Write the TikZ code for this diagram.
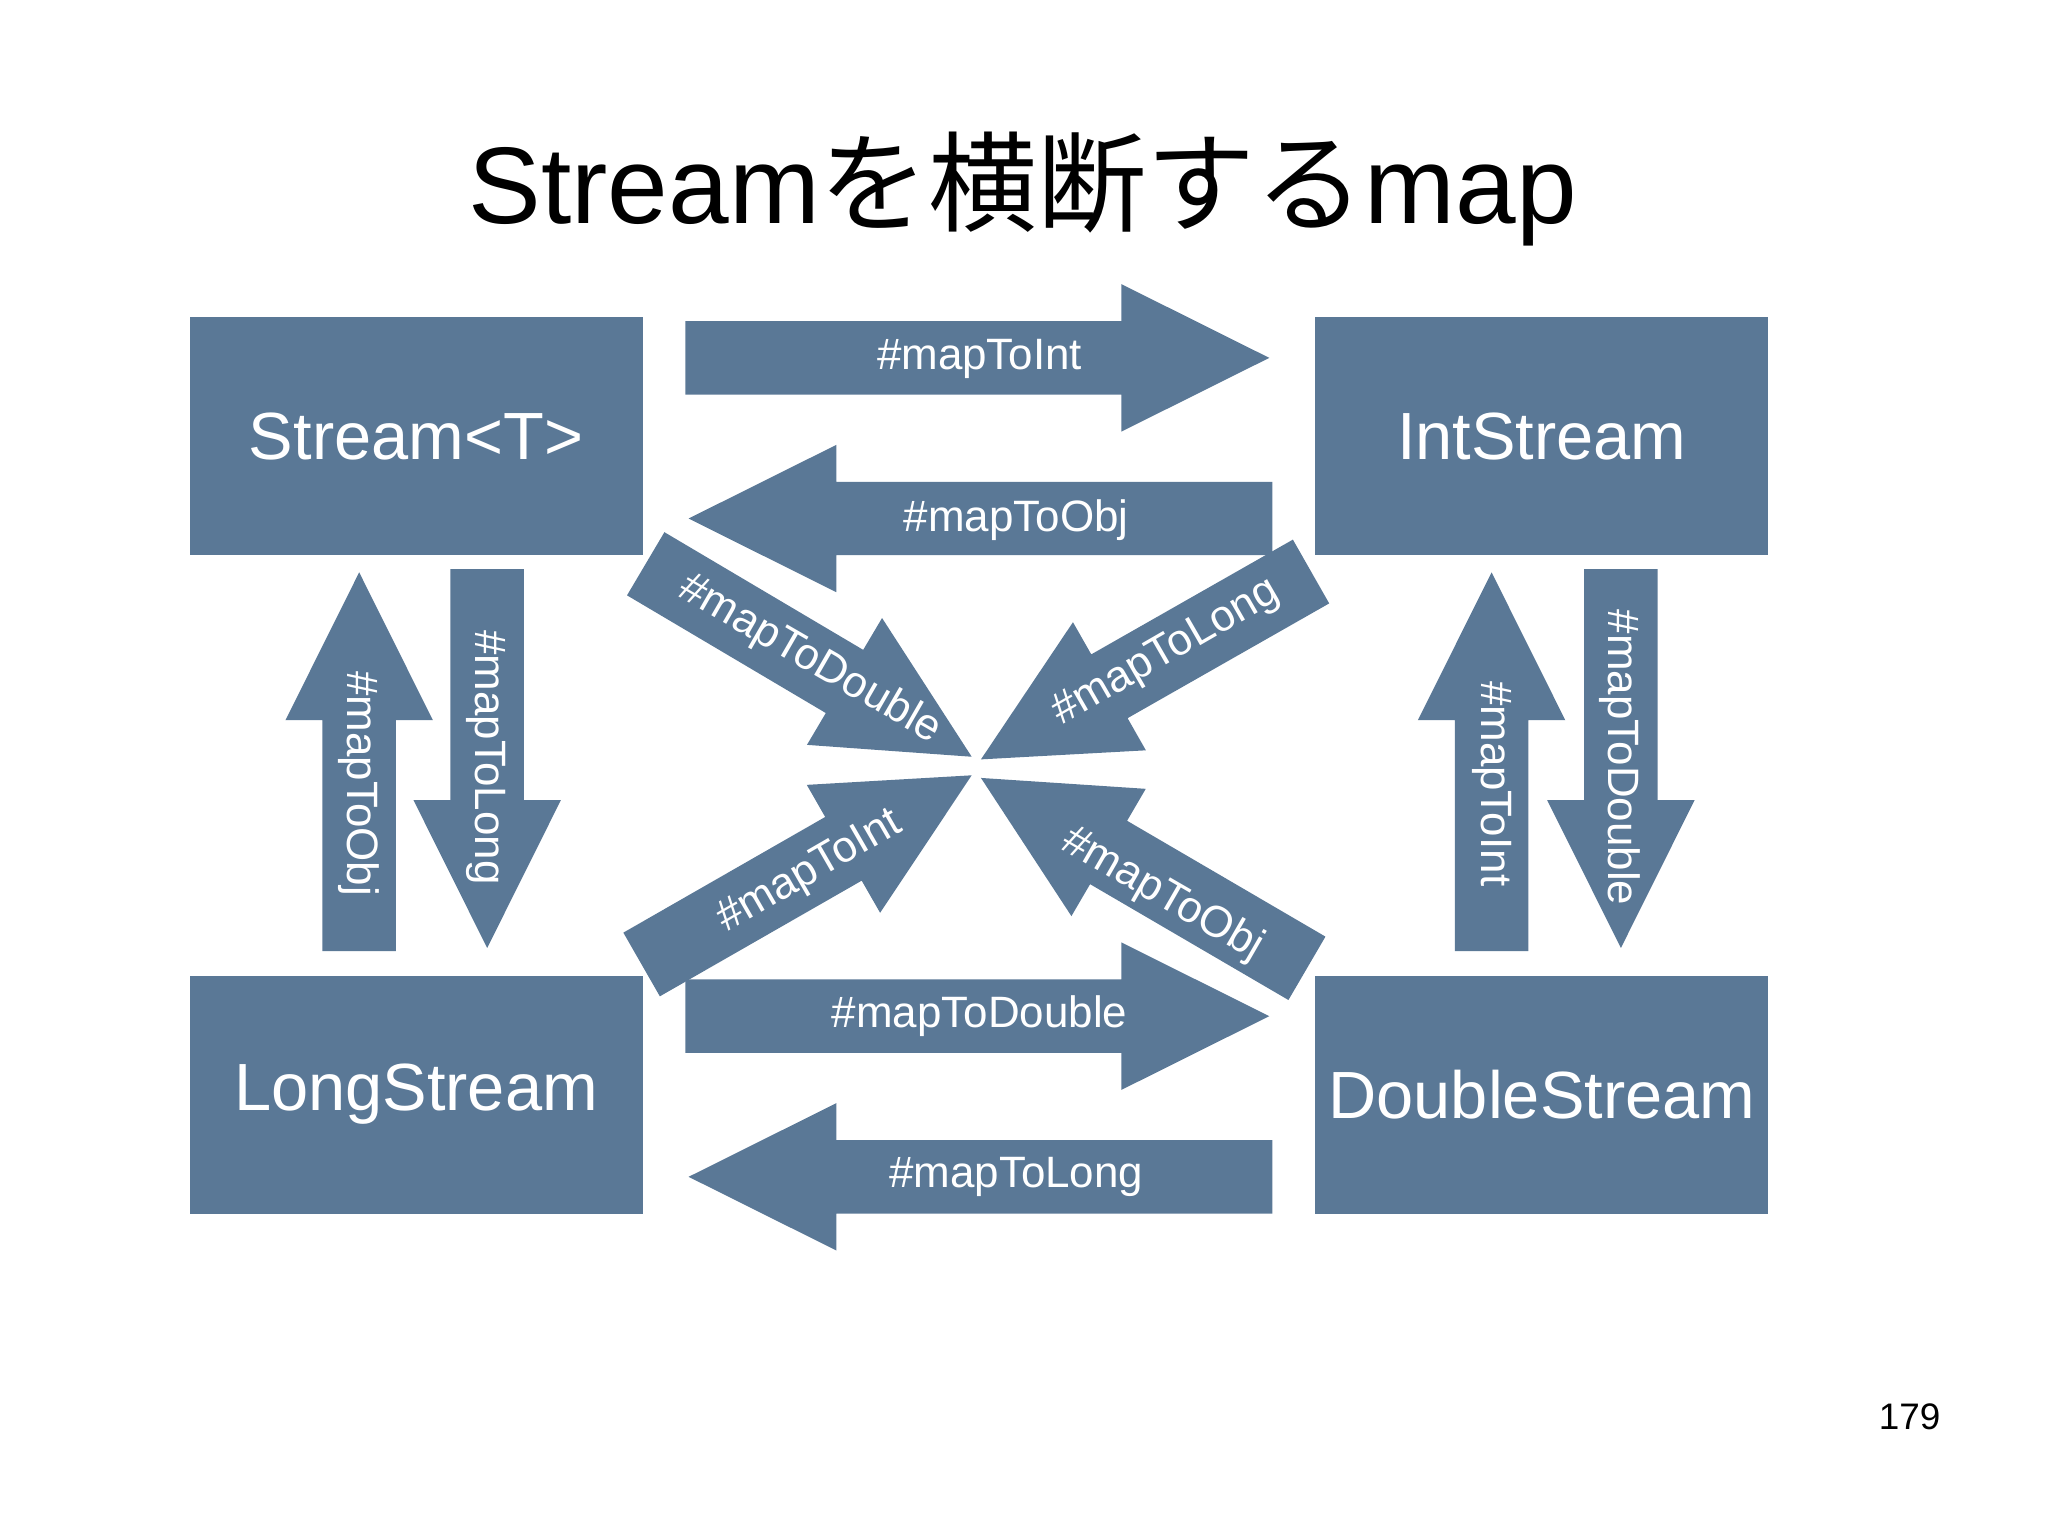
\documentclass[tikz,border=0pt]{standalone}
\usepackage{fontspec}
\setmainfont{Liberation Sans}
\newfontfamily\cjk{Noto Sans CJK JP}
\usetikzlibrary{shapes.arrows, calc, positioning}
\definecolor{streamblue}{HTML}{5A7896}

\tikzset{
    stream box/.style={fill=streamblue, text=white, minimum width=4.53cm,
        minimum height=2.38cm, inner sep=0pt, font=\fontsize{19}{22}\selectfont},
    map arrow/.style={single arrow, fill=streamblue, inner xsep=0pt,
        inner ysep=0.36cm, single arrow head extend=0.37cm,
        single arrow tip angle=53, single arrow head indent=0pt},
    map label/.style={text=white, font=\fontsize{12.5}{15}\selectfont}
}

% block arrow from tail (#2) to tip (#3)
\newcommand{\maparrow}[3]{%
    \path let \p1=($(#3)-(#2)$), \n1={atan2(\y1,\x1)}, \n2={veclen(\x1,\y1)} in
        node[map arrow, rotate=\n1, minimum height=\n2, anchor=tip] (#1) at (#3) {};}

\begin{document}
\begin{tikzpicture}[x=0.01306cm, y=-0.01306cm]
    \useasboundingbox (0, 0) rectangle (1568, 1175);
    \node[font=\fontsize{31}{36}\selectfont] (title) at (783, 145)
        {Stream{\cjk を横断する}map};
    \node[font=\fontsize{10.5}{12}\selectfont] (page) at (1462, 1085) {179};

    % stream boxes
    \node[stream box] (stream) at (318.5, 334) {Stream<T>};
    \node[stream box] (int) at (1180.5, 334) {IntStream};
    \node[stream box] (long) at (318.5, 838) {LongStream};
    \node[stream box] (double) at (1180.5, 838) {DoubleStream};

    % tails and tips
    \coordinate (a1) at (526, 274);  \coordinate (b1) at (973, 274);
    \coordinate (a2) at (973, 397);  \coordinate (b2) at (526, 397);
    \coordinate (a3) at (526, 778);  \coordinate (b3) at (973, 778);
    \coordinate (a4) at (973, 901);  \coordinate (b4) at (526, 901);
    \coordinate (a5) at (275, 727);  \coordinate (b5) at (275, 437);
    \coordinate (a6) at (373, 437);  \coordinate (b6) at (373, 727);
    \coordinate (a7) at (1142, 727); \coordinate (b7) at (1142, 437);
    \coordinate (a8) at (1241, 437); \coordinate (b8) at (1241, 727);
    \coordinate (a9) at (495, 432);  \coordinate (b9) at (745, 580);
    \coordinate (a10) at (1003, 438); \coordinate (b10) at (750, 582);
    \coordinate (a11) at (492, 738); \coordinate (b11) at (745, 593);
    \coordinate (a12) at (1000, 741); \coordinate (b12) at (750, 595);

    \foreach \i in {1,...,12} {\maparrow{arr\i}{a\i}{b\i}}

    % labels
    \node[map label] (l1) at (750, 275) {\#mapToInt};
    \node[map label] (l2) at (778, 398) {\#mapToObj};
    \node[map label] (l3) at (750, 778) {\#mapToDouble};
    \node[map label] (l4) at (778, 901) {\#mapToLong};
    \node[map label, rotate=-90] (l5) at (275, 600) {\#mapToObj};
    \node[map label, rotate=-90] (l6) at (372, 580) {\#mapToLong};
    \node[map label, rotate=-90] (l7) at (1142, 600) {\#mapToInt};
    \node[map label, rotate=-90] (l8) at (1240, 580) {\#mapToDouble};
    \node[map label, rotate=-30] (l9) at (620, 505) {\#mapToDouble};
    \node[map label, rotate=30] (l10) at (893, 500) {\#mapToLong};
    \node[map label, rotate=30] (l11) at (620, 668) {\#mapToInt};
    \node[map label, rotate=-30] (l12) at (890, 685) {\#mapToObj};
\end{tikzpicture}
\end{document}
